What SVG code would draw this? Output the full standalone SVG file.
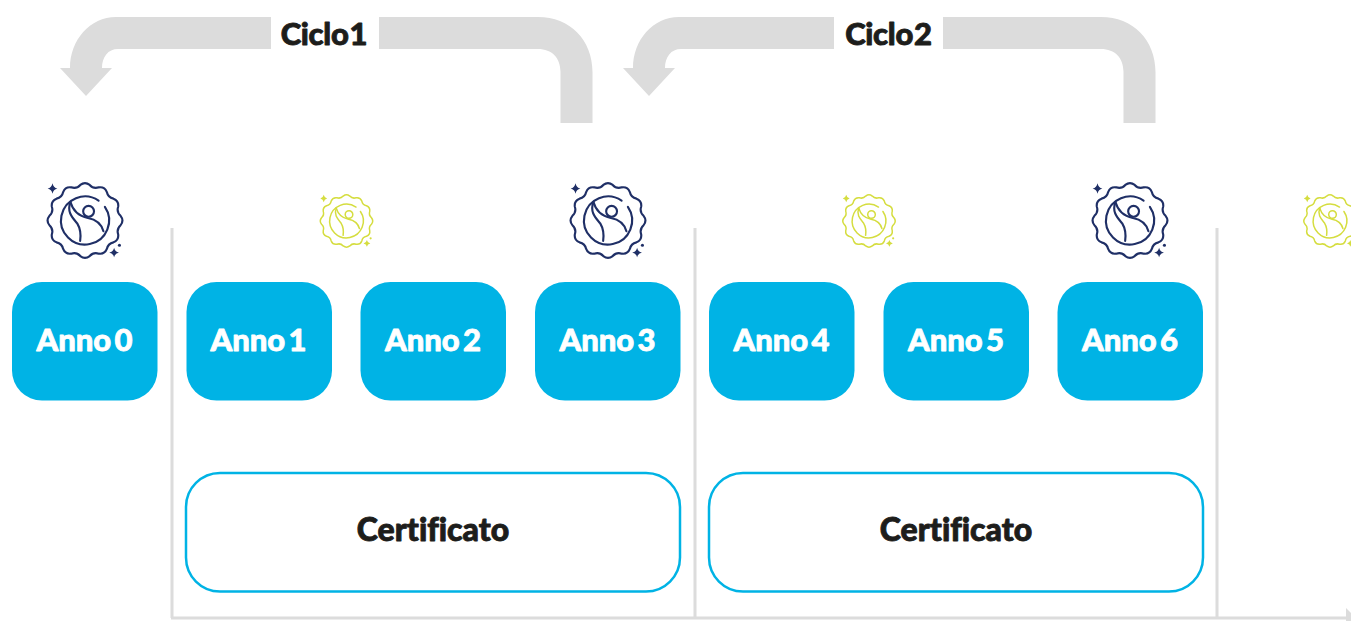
<svg xmlns="http://www.w3.org/2000/svg" width="1351" height="621" viewBox="0 0 1351 621">
<style>
.t{font-family:"Lato","Liberation Sans",sans-serif;font-weight:900;text-anchor:middle;font-variant-ligatures:none;stroke-linejoin:round}
.a{font-size:31px;fill:#fff;stroke:#fff;stroke-width:.8;word-spacing:-4px}
.c{font-size:31px;fill:#1d1d1b;stroke:#1d1d1b;stroke-width:.9;word-spacing:-6px;letter-spacing:-.3px}
.y{font-size:32px;fill:#1d1d1b;stroke:#1d1d1b;stroke-width:.9}
.box{fill:#00b3e5}
.cert{fill:#fff;stroke:#00b3e5;stroke-width:2.5}
.rule{stroke:#dcdcdc;stroke-width:3;fill:none}
.arr{fill:#dcdcdc}
.b{fill:none;stroke-width:2.2;stroke-linecap:round;stroke-linejoin:round}
.spark{stroke:none}
</style>
<defs>
<g id="badge">
<path class="b" d="M36.68 -4.83Q40.5 0 36.68 4.83Q32.36 8.67 34.18 14.16Q35.07 20.25 29.35 22.52Q23.69 23.69 22.52 29.35Q20.25 35.07 14.16 34.18Q8.67 32.36 4.83 36.68Q0 40.5 -4.83 36.68Q-8.67 32.36 -14.16 34.18Q-20.25 35.07 -22.52 29.35Q-23.69 23.69 -29.35 22.52Q-35.07 20.25 -34.18 14.16Q-32.36 8.67 -36.68 4.83Q-40.5 0 -36.68 -4.83Q-32.36 -8.67 -34.18 -14.16Q-35.07 -20.25 -29.35 -22.52Q-23.69 -23.69 -22.52 -29.35Q-20.25 -35.07 -14.16 -34.18Q-8.67 -32.36 -4.83 -36.68Q0 -40.5 4.83 -36.68Q8.67 -32.36 14.16 -34.18Q20.25 -35.07 22.52 -29.35Q23.69 -23.69 29.35 -22.52Q35.07 -20.25 34.18 -14.16Q32.36 -8.67 36.68 -4.83Z"/>
<path class="b" d="M14 -20.5A24.8 24.8 0 1 0 20.5 -14"/>
<circle class="b" cx="3.7" cy="-9.5" r="5.6"/>
<path class="b" d="M-15 -19C-12 -8 -4 -4 3 -2.5C11 -1 17 4 19 11"/>
<path class="b" d="M-15 -19C-19 -9 -13 -3 -8 3C-5 8 -4 14 -5 21"/>
<path class="spark" d="M-33.5 -38.5Q-32.6 -34 -28.5 -33Q-32.6 -32 -33.5 -27.5Q-34.4 -32 -38.5 -33Q-34.4 -34 -33.5 -38.5Z"/>
<path class="spark" d="M30 28Q30.8 32.2 35 33Q30.8 33.8 30 38Q29.2 33.8 25 33Q29.2 32.2 30 28Z"/>
<circle class="spark" cx="35.5" cy="25.5" r="1.6"/>
</g>
</defs>
<g id="connectors">
<path class="rule" d="M172 228V618M695 228V618M1217 228V618M171 618H1347"/>
<path class="arr" d="M1346 608L1356 618L1346 628Z"/>
<path id="ciclo1-arrow-left" class="arr" d="M271 17H116C90 17 70 40 70 68H60L86 96L112 68H102C102 57 108 49 118 49H271Z"/>
<path id="ciclo1-arrow-right" class="arr" d="M379 17H538C570 17 592.500 40 592.500 72V123H560.500V72C560.500 58 552 49 538 49H379Z"/>
<path id="ciclo2-arrow-left" class="arr" d="M834 17H679C653 17 633 40 633 68H623L649 96L675 68H665C665 57 671 49 681 49H834Z"/>
<path id="ciclo2-arrow-right" class="arr" d="M943 17H1101C1133 17 1155.500 40 1155.500 72V123H1123.500V72C1123.500 58 1115 49 1101 49H943Z"/>
</g>
<g id="label-ciclo1"><text class="t c" x="324" y="45">Ciclo 1</text></g>
<g id="label-ciclo2"><text class="t c" x="888.500" y="45">Ciclo 2</text></g>
<g id="badges-large" stroke="#1f2f66" fill="#1f2f66">
<use href="#badge" transform="translate(85 220.5) scale(.97)"/>
<use href="#badge" transform="translate(608 220.5) scale(.97)"/>
<use href="#badge" transform="translate(1130 220.5) scale(.97)"/>
</g>
<g id="badges-small" stroke="#d5dd3f" fill="#d5dd3f">
<use href="#badge" transform="translate(346.5 221) scale(.68)"/>
<use href="#badge" transform="translate(869 221) scale(.68)"/>
<use href="#badge" transform="translate(1330 221) scale(.68)"/>
</g>
<g id="anno0"><rect class="box" x="12" y="282" width="145.500" height="118.500" rx="30"/><text class="t a" x="84.500" y="350.500">Anno 0</text></g>
<g id="anno1"><rect class="box" x="186.500" y="282" width="145.500" height="118.500" rx="30"/><text class="t a" x="258.500" y="350.500">Anno 1</text></g>
<g id="anno2"><rect class="box" x="360.500" y="282" width="145.500" height="118.500" rx="30"/><text class="t a" x="433" y="350.500">Anno 2</text></g>
<g id="anno3"><rect class="box" x="535" y="282" width="145.500" height="118.500" rx="30"/><text class="t a" x="607.500" y="350.500">Anno 3</text></g>
<g id="anno4"><rect class="box" x="709" y="282" width="145.500" height="118.500" rx="30"/><text class="t a" x="781.500" y="350.500">Anno 4</text></g>
<g id="anno5"><rect class="box" x="883.500" y="282" width="145.500" height="118.500" rx="30"/><text class="t a" x="956" y="350.500">Anno 5</text></g>
<g id="anno6"><rect class="box" x="1057.500" y="282" width="145.500" height="118.500" rx="30"/><text class="t a" x="1130" y="350.500">Anno 6</text></g>
<g id="certificato1"><rect class="cert" x="186" y="473" width="494" height="118.500" rx="34"/><text class="t y" x="433" y="541">Certificato</text></g>
<g id="certificato2"><rect class="cert" x="709" y="473" width="494" height="118.500" rx="34"/><text class="t y" x="956" y="541">Certificato</text></g>
</svg>
